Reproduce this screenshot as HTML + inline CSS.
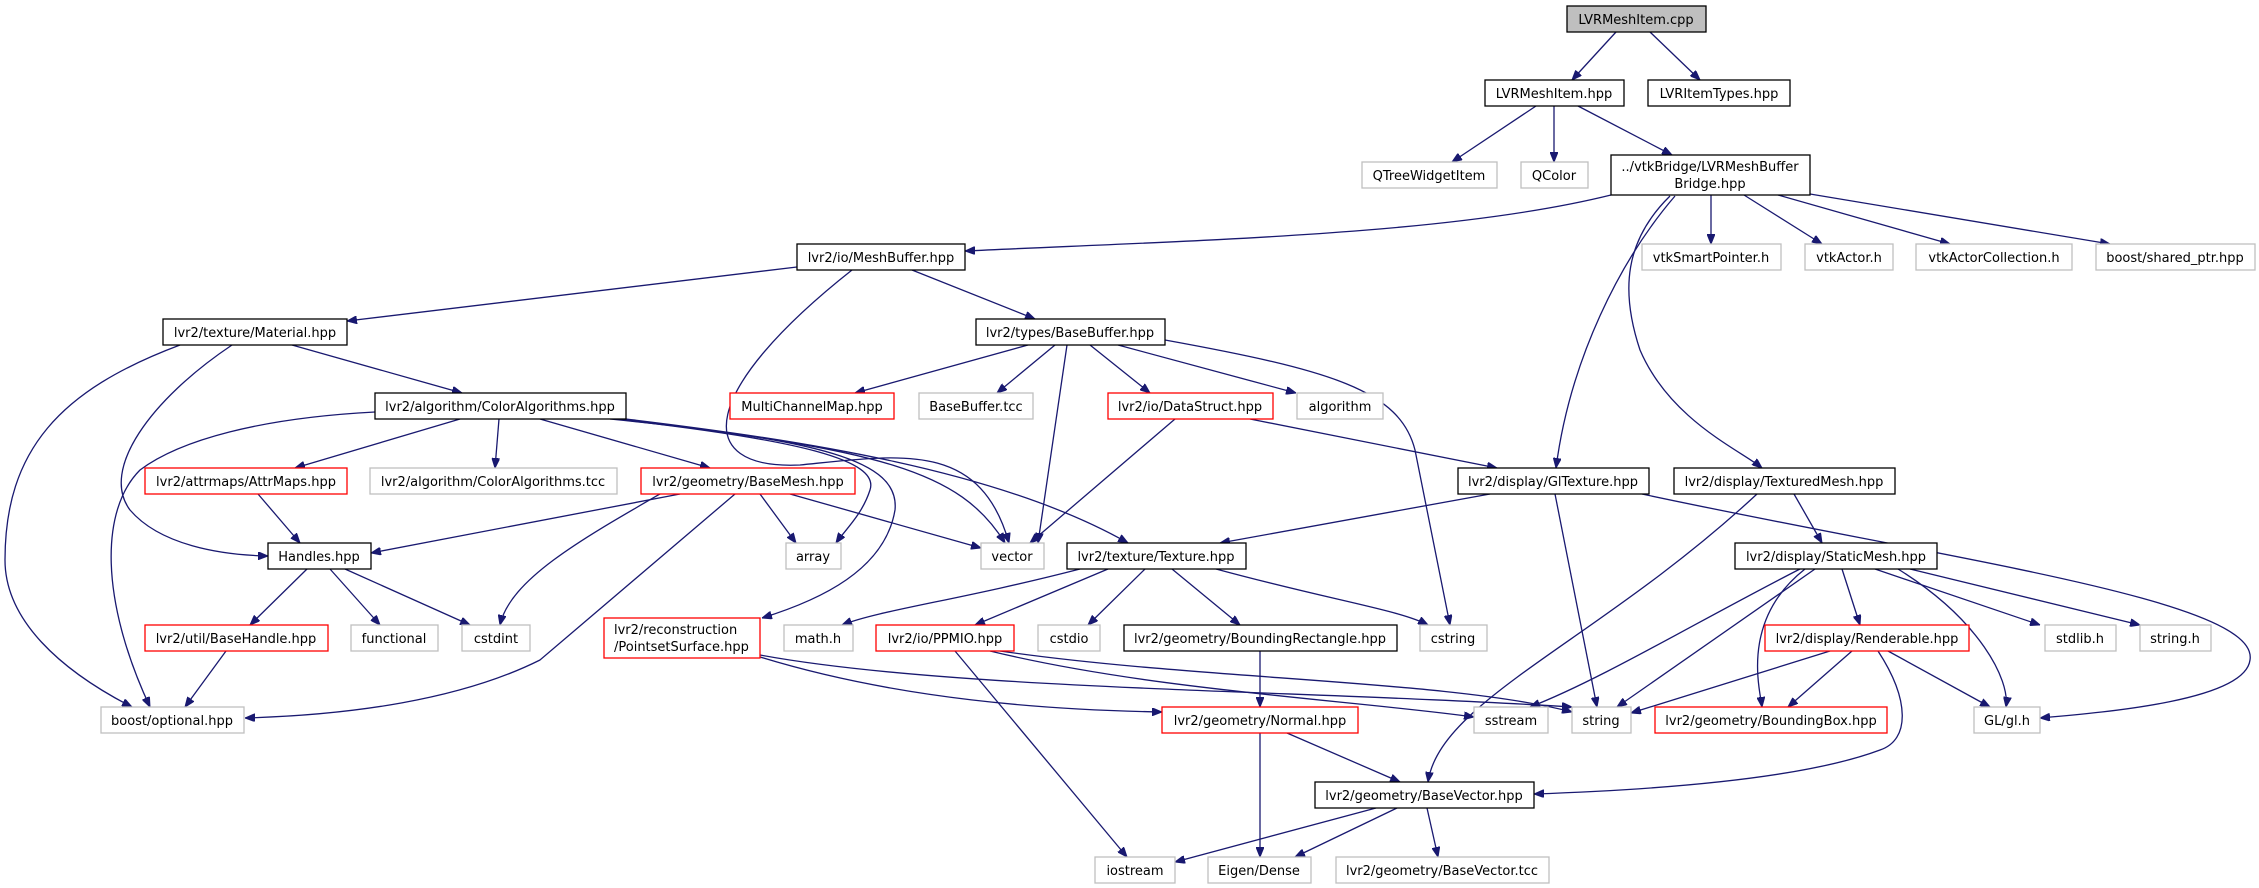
<!DOCTYPE html>
<html><head><meta charset="utf-8"><style>
html,body{margin:0;padding:0;background:#fff}
svg{display:block}
text{font-family:"DejaVu Sans","Liberation Sans",sans-serif;font-size:13px;fill:#000}
.b{fill:#fff;stroke:#000;stroke-width:1.3}
.r{fill:#fff;stroke:#ff0000;stroke-width:1.3}
.g{fill:#fff;stroke:#bfbfbf;stroke-width:1.3}
path{fill:none;stroke:#191970;stroke-width:1.3}
</style></head><body>
<svg width="2259" height="888" viewBox="0 0 2259 888" xmlns="http://www.w3.org/2000/svg">
<defs><marker id="a" viewBox="0 0 10 8" refX="10" refY="4" markerWidth="10" markerHeight="8" markerUnits="userSpaceOnUse" orient="auto"><polygon points="0,0 10,4 0,8" fill="#191970" stroke="#191970"/></marker></defs>
<g marker-end="url(#a)">
<path d="M1616,32 L1572,80"/>
<path d="M1650,32 L1700,80"/>
<path d="M1536,106 L1452,162"/>
<path d="M1554,106 L1554,162"/>
<path d="M1578,106 L1672,155"/>
<path d="M1611,195 C1450,235 1200,240 965,251"/>
<path d="M1711,195 L1711,244"/>
<path d="M1744,195 L1822,244"/>
<path d="M1778,195 L1950,244"/>
<path d="M1810,194 L2110,244"/>
<path d="M1675,196 C1620,260 1570,360 1556,468"/>
<path d="M1670,196 C1625,240 1620,290 1640,350 C1670,420 1740,450 1762,468"/>
<path d="M797,267 L347,321"/>
<path d="M912,270 L1035,319"/>
<path d="M852,270 C700,390 690,470 800,465 C900,455 980,440 1009,543"/>
<path d="M180,345 C60,390 5,450 5,560 C5,620 60,670 132,707"/>
<path d="M232,345 C150,400 100,470 130,510 C160,545 220,555 268,556"/>
<path d="M292,345 L462,393"/>
<path d="M1028,345 L855,393"/>
<path d="M1055,345 L997,393"/>
<path d="M1067,345 L1038,543"/>
<path d="M1090,345 L1150,393"/>
<path d="M1118,345 L1296,393"/>
<path d="M1165,340 C1330,370 1400,390 1415,450 L1450,625"/>
<path d="M375,412 C260,418 180,440 140,470 C100,510 100,600 150,707"/>
<path d="M460,419 L295,468"/>
<path d="M499,419 L495,468"/>
<path d="M540,419 L710,468"/>
<path d="M610,419 C820,440 900,460 895,510 C885,570 820,600 762,618"/>
<path d="M615,419 C800,440 880,460 870,490 C862,515 845,530 836,543"/>
<path d="M620,419 C880,450 960,470 1005,543"/>
<path d="M626,419 C800,440 1000,470 1128,543"/>
<path d="M1175,419 L1030,543"/>
<path d="M1250,419 L1497,468"/>
<path d="M258,494 L300,543"/>
<path d="M680,494 L371,553"/>
<path d="M660,494 C580,540 510,580 500,625"/>
<path d="M735,494 L540,660 C460,700 350,715 245,718"/>
<path d="M760,494 L796,543"/>
<path d="M790,494 L981,548"/>
<path d="M1490,494 L1220,543"/>
<path d="M1555,494 L1597,707"/>
<path d="M1642,494 C1950,560 2260,600 2250,660 C2245,700 2110,712 2040,718"/>
<path d="M1794,494 L1822,543"/>
<path d="M1757,494 C1600,640 1440,700 1428,782"/>
<path d="M307,569 L250,625"/>
<path d="M330,569 L380,625"/>
<path d="M345,569 L470,625"/>
<path d="M1080,569 C960,600 880,610 842,625"/>
<path d="M1108,569 L975,625"/>
<path d="M1145,569 L1088,625"/>
<path d="M1172,569 L1240,625"/>
<path d="M1216,569 C1330,600 1400,610 1428,625"/>
<path d="M1800,569 C1700,620 1600,680 1530,707"/>
<path d="M1815,569 L1617,707"/>
<path d="M1805,569 C1740,620 1760,690 1762,707"/>
<path d="M1842,569 L1860,625"/>
<path d="M1898,569 C1980,620 2010,680 2006,707"/>
<path d="M1875,569 L2040,625"/>
<path d="M1910,569 L2140,625"/>
<path d="M226,651 L185,707"/>
<path d="M760,657 C900,700 1050,710 1162,712"/>
<path d="M760,655 C950,690 1300,690 1572,707"/>
<path d="M955,651 L1127,857"/>
<path d="M990,651 C1150,690 1350,700 1474,717"/>
<path d="M1000,651 C1200,680 1450,680 1572,712"/>
<path d="M1260,651 L1260,707"/>
<path d="M1830,651 L1631,713"/>
<path d="M1852,651 L1788,707"/>
<path d="M1888,651 L1990,707"/>
<path d="M1878,651 C1910,700 1910,740 1880,750 C1800,780 1650,790 1534,794"/>
<path d="M1287,733 L1400,782"/>
<path d="M1260,733 L1260,857"/>
<path d="M1376,808 L1175,862"/>
<path d="M1397,808 L1295,857"/>
<path d="M1427,808 L1438,857"/>
</g>
<g text-anchor="middle">
<rect x="1567" y="6" width="139" height="26" fill="#bfbfbf" stroke="#000" stroke-width="1.3"/><text x="1636" y="24">LVRMeshItem.cpp</text>
<rect class="b" x="1485" y="80" width="139" height="26"/><text x="1554" y="98">LVRMeshItem.hpp</text>
<rect class="b" x="1648" y="80" width="142" height="26"/><text x="1719" y="98">LVRItemTypes.hpp</text>
<rect class="g" x="1362" y="162" width="135" height="26"/><text x="1429" y="180">QTreeWidgetItem</text>
<rect class="g" x="1521" y="162" width="67" height="26"/><text x="1554" y="180">QColor</text>
<rect class="b" x="1611" y="155" width="199" height="40"/><text x="1710" y="171">../vtkBridge/LVRMeshBuffer</text><text x="1710" y="188">Bridge.hpp</text>
<rect class="b" x="797" y="244" width="168" height="26"/><text x="881" y="262">lvr2/io/MeshBuffer.hpp</text>
<rect class="g" x="1642" y="244" width="139" height="26"/><text x="1711" y="262">vtkSmartPointer.h</text>
<rect class="g" x="1805" y="244" width="88" height="26"/><text x="1849" y="262">vtkActor.h</text>
<rect class="g" x="1916" y="244" width="156" height="26"/><text x="1994" y="262">vtkActorCollection.h</text>
<rect class="g" x="2096" y="244" width="159" height="26"/><text x="2175" y="262">boost/shared_ptr.hpp</text>
<rect class="b" x="163" y="319" width="184" height="26"/><text x="255" y="337">lvr2/texture/Material.hpp</text>
<rect class="b" x="976" y="319" width="189" height="26"/><text x="1070" y="337">lvr2/types/BaseBuffer.hpp</text>
<rect class="b" x="375" y="393" width="251" height="26"/><text x="500" y="411">lvr2/algorithm/ColorAlgorithms.hpp</text>
<rect class="r" x="730" y="393" width="164" height="26"/><text x="812" y="411">MultiChannelMap.hpp</text>
<rect class="g" x="919" y="393" width="114" height="26"/><text x="976" y="411">BaseBuffer.tcc</text>
<rect class="r" x="1108" y="393" width="165" height="26"/><text x="1190" y="411">lvr2/io/DataStruct.hpp</text>
<rect class="g" x="1297" y="393" width="86" height="26"/><text x="1340" y="411">algorithm</text>
<rect class="r" x="145" y="468" width="202" height="26"/><text x="246" y="486">lvr2/attrmaps/AttrMaps.hpp</text>
<rect class="g" x="370" y="468" width="247" height="26"/><text x="493" y="486">lvr2/algorithm/ColorAlgorithms.tcc</text>
<rect class="r" x="641" y="468" width="214" height="26"/><text x="748" y="486">lvr2/geometry/BaseMesh.hpp</text>
<rect class="b" x="1458" y="468" width="191" height="26"/><text x="1553" y="486">lvr2/display/GlTexture.hpp</text>
<rect class="b" x="1674" y="468" width="221" height="26"/><text x="1784" y="486">lvr2/display/TexturedMesh.hpp</text>
<rect class="b" x="268" y="543" width="103" height="26"/><text x="319" y="561">Handles.hpp</text>
<rect class="g" x="786" y="543" width="55" height="26"/><text x="813" y="561">array</text>
<rect class="g" x="981" y="543" width="63" height="26"/><text x="1012" y="561">vector</text>
<rect class="b" x="1067" y="543" width="179" height="26"/><text x="1156" y="561">lvr2/texture/Texture.hpp</text>
<rect class="b" x="1735" y="543" width="202" height="26"/><text x="1836" y="561">lvr2/display/StaticMesh.hpp</text>
<rect class="r" x="145" y="625" width="183" height="26"/><text x="236" y="643">lvr2/util/BaseHandle.hpp</text>
<rect class="g" x="351" y="625" width="87" height="26"/><text x="394" y="643">functional</text>
<rect class="g" x="462" y="625" width="68" height="26"/><text x="496" y="643">cstdint</text>
<rect class="r" x="604" y="618" width="156" height="40"/><text x="614" y="634" text-anchor="start">lvr2/reconstruction</text><text x="614" y="651" text-anchor="start">/PointsetSurface.hpp</text>
<rect class="g" x="784" y="625" width="69" height="26"/><text x="818" y="643">math.h</text>
<rect class="r" x="876" y="625" width="138" height="26"/><text x="945" y="643">lvr2/io/PPMIO.hpp</text>
<rect class="g" x="1038" y="625" width="62" height="26"/><text x="1069" y="643">cstdio</text>
<rect class="b" x="1124" y="625" width="273" height="26"/><text x="1260" y="643">lvr2/geometry/BoundingRectangle.hpp</text>
<rect class="g" x="1420" y="625" width="67" height="26"/><text x="1453" y="643">cstring</text>
<rect class="r" x="1765" y="625" width="204" height="26"/><text x="1867" y="643">lvr2/display/Renderable.hpp</text>
<rect class="g" x="2045" y="625" width="71" height="26"/><text x="2080" y="643">stdlib.h</text>
<rect class="g" x="2140" y="625" width="71" height="26"/><text x="2175" y="643">string.h</text>
<rect class="g" x="101" y="707" width="143" height="26"/><text x="172" y="725">boost/optional.hpp</text>
<rect class="r" x="1162" y="707" width="196" height="26"/><text x="1260" y="725">lvr2/geometry/Normal.hpp</text>
<rect class="g" x="1474" y="707" width="74" height="26"/><text x="1511" y="725">sstream</text>
<rect class="g" x="1572" y="707" width="59" height="26"/><text x="1601" y="725">string</text>
<rect class="r" x="1655" y="707" width="232" height="26"/><text x="1771" y="725">lvr2/geometry/BoundingBox.hpp</text>
<rect class="g" x="1974" y="707" width="66" height="26"/><text x="2007" y="725">GL/gl.h</text>
<rect class="b" x="1315" y="782" width="219" height="26"/><text x="1424" y="800">lvr2/geometry/BaseVector.hpp</text>
<rect class="g" x="1095" y="857" width="80" height="26"/><text x="1135" y="875">iostream</text>
<rect class="g" x="1208" y="857" width="103" height="26"/><text x="1259" y="875">Eigen/Dense</text>
<rect class="g" x="1336" y="857" width="213" height="26"/><text x="1442" y="875">lvr2/geometry/BaseVector.tcc</text>
</g>
</svg>
</body></html>
